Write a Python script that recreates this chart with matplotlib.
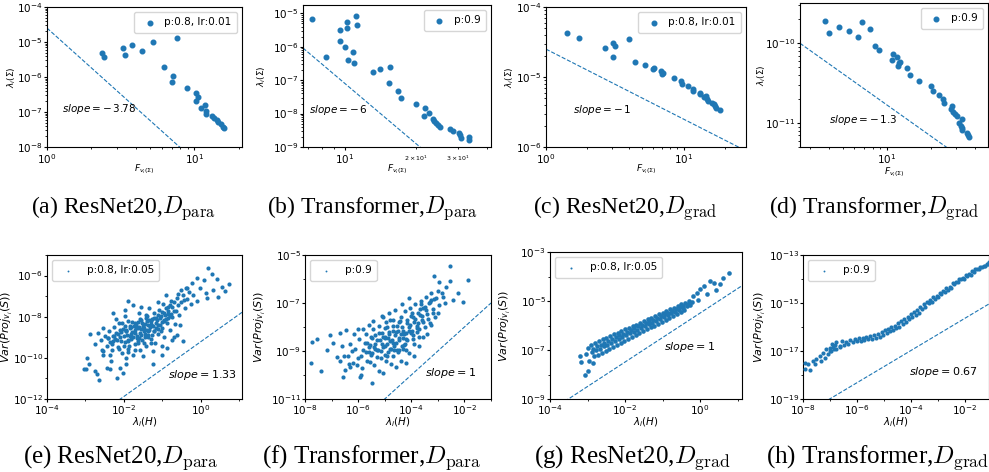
import numpy as np
import matplotlib.pyplot as plt
from matplotlib.ticker import FuncFormatter, LogLocator, NullFormatter

W, H = 989, 472
BLUE = '#1f77b4'

# ---------------- top row: lambda_i(Sigma) vs F_{v_i(Sigma)} ----------------
a_x = [2.36, 2.45, 3.27, 3.36, 3.76, 4.4, 5.25, 7.6, 6.26, 7.2, 7.05, 8.83, 10.3, 10.5,
       10.2, 11.1, 11.7, 12.0, 11.9, 13.2, 13.5, 14.2, 14.5, 15.2, 15.6, 15.9]
a_y = [4.85e-6, 3.7e-6, 6.7e-6, 4.3e-6, 8.2e-6, 5.6e-6, 1.02e-5, 1.3e-5, 1.9e-6, 1.1e-6,
       7.2e-7, 4.9e-7, 3.5e-7, 2.6e-7, 2.0e-7, 1.3e-7, 1.6e-7, 1.07e-7, 8.9e-8, 7.5e-8,
       6.6e-8, 5.8e-8, 5.1e-8, 4.4e-8, 3.8e-8, 3.4e-8]

b_x = [7.3, 8.31, 9.5, 9.5, 10.0, 10.2, 10.2, 10.3, 10.8, 10.9, 11.2, 11.3, 13.1, 14.1,
       15.5, 15.3, 16.7, 17.2, 20.0, 21.7, 21.5, 22.7, 23.6, 23.7, 24.2, 24.7, 25.3, 27.9,
       28.7, 30.2, 30.6, 31.0, 33.3, 33.5]
b_y = [6.6e-6, 5.1e-7, 3.1e-6, 1.45e-6, 1.0e-6, 5.5e-6, 3.7e-6, 3.9e-7, 6.9e-7, 3.2e-7,
       8.3e-6, 4.6e-6, 1.78e-7, 2.1e-7, 2.5e-7, 8.3e-8, 4.6e-8, 2.9e-8, 1.95e-8, 1.45e-8,
       8.3e-9, 1.07e-8, 6.8e-9, 5.9e-9, 5.1e-9, 4.5e-9, 3.9e-9, 3.5e-9, 2.95e-9, 2.6e-9,
       2.3e-9, 1.86e-9, 2.04e-9, 1.6e-9]

c_x = [1.42, 1.74, 2.68, 3.05, 3.08, 3.15, 3.98, 4.4, 5.2, 5.97, 6.1, 6.82, 6.95, 7.1,
       8.51, 9.6, 9.8, 10.7, 11.7, 11.7, 13.05, 13.2, 14.0, 14.6, 14.9, 15.0, 16.0, 16.5,
       17.0, 17.3, 18.5]
c_y = [4.25e-5, 3.6e-5, 2.6e-5, 1.93e-5, 3.1e-5, 2.8e-5, 3.5e-5, 1.64e-5, 1.47e-5, 1.29e-5,
       1.36e-5, 1.2e-5, 1.12e-5, 1.14e-5, 9.7e-6, 8.9e-6, 7.95e-6, 7.4e-6, 6.8e-6, 6.4e-6,
       6.0e-6, 5.65e-6, 5.2e-6, 5.4e-6, 4.9e-6, 4.5e-6, 4.2e-6, 4.05e-6, 3.8e-6, 3.65e-6,
       3.34e-6]

d_x = [3.78, 4.01, 4.69, 5.49, 6.33, 6.81, 7.65, 8.28, 8.86, 10.99, 10.9, 11.7, 11.96,
       12.2, 12.4, 13.7, 14.45, 16.7, 20.1, 20.8, 22.7, 24.2, 24.8, 27.9, 27.7, 28.6, 29.4,
       30.3, 32.8, 31.3, 32.3, 32.8, 33.0, 35.5, 36.1, 36.8]
d_y = [1.93e-10, 1.34e-10, 1.58e-10, 1.43e-10, 1.19e-10, 1.84e-10, 1.49e-10, 9.35e-11,
       8.2e-11, 7.4e-11, 6.1e-11, 6.7e-11, 5.2e-11, 5.6e-11, 5.8e-11, 4.9e-11, 3.95e-11,
       3.35e-11, 2.9e-11, 2.5e-11, 2.23e-11, 2.0e-11, 1.77e-11, 1.62e-11, 1.49e-11, 1.39e-11,
       1.3e-11, 1.21e-11, 1.11e-11, 1.0e-11, 9.2e-12, 8.6e-12, 8.2e-12, 7.6e-12, 7.1e-12,
       6.7e-12]

top_labels = ['p:0.8, lr:0.01', 'p:0.9', 'p:0.8, lr:0.01', 'p:0.9']
top_slopes = [-3.78, -6, -1, -1.3]
top_slope_text = [r'$slope = -\,3.78$', r'$slope = -\,6$', r'$slope = -\,1$', r'$slope = -\,1.3$']
top_anchor = [(1.0, 2.5e-5), (10.0, 8e-8), (1.0, 2.5e-5), (2.55, 1e-10)]
top_text_at = [(1.26, 1.2e-7), (7.06, 1.26e-8), (1.58, 3.34e-6), (4.05, 1.1e-11)]
top_xlim = [(1.0, 21.0), (6.66, 41.4), (1.0, 28.4), (2.55, 49.4)]
top_ylim = [(1e-8, 1e-4), (1e-9, 1.78e-5), (1e-6, 1e-4), (5e-12, 3.2e-10)]
top_xticks = [[1, 10], [10], [1, 10], [10]]
top_yticks = [[1e-8, 1e-7, 1e-6, 1e-5, 1e-4], [1e-9, 1e-8, 1e-7, 1e-6, 1e-5],
              [1e-6, 1e-5, 1e-4], [1e-11, 1e-10]]

# ---------------- bottom row: Var(Proj) vs lambda_i(H), log10 values ----------------
e_lx = [0.20, 0.29, -0.10, 0.09, 0.42, 0.75, 0.55, 0.33, -0.02, -0.23, -0.36, 0.13, -0.19,
        0.64, 0.16, -0.10, 0.46,
        -3.03, -2.97, -2.90, -2.75, -2.64, -2.45, -2.17, -2.01, -2.32, -2.53, -1.93, -2.66,
        -2.88, -2.53, -2.40, -2.75, -2.58, -2.98, -2.70, -2.35, -2.10,
        -0.62, -0.88, -1.01, -1.23, -0.54, -0.75, -0.45, -1.88, -1.97, -2.20, -1.75, -2.27,
        -2.45, -2.40, -2.30, -2.28, -2.20, -2.15, -2.10, -2.05, -2.02, -1.98, -1.92, -1.90,
        -1.85, -1.82, -1.78, -1.75, -1.72, -1.70, -1.65, -1.62, -1.58, -1.55, -1.52, -1.48,
        -1.45, -1.42, -1.40, -1.36, -1.32, -1.30, -1.27, -1.22, -1.20, -1.18, -1.15, -1.10,
        -1.08, -1.05, -1.00, -0.98, -0.95, -0.92, -0.88, -0.85, -0.80, -0.78, -0.75, -0.70,
        -0.66, -0.62, -0.60, -0.55, -0.50, -0.45, -0.40, -0.35, -0.30, -0.26, -2.60, -2.55,
        -2.50, -2.35, -2.25, -1.95, -1.60, -1.35, -1.12, -1.88, -2.12, -0.90, -1.50, -1.25,
        -1.00, -0.70, -1.68, -1.40, -1.15, -1.95, -2.25, -0.95, -1.60, -1.30, -0.85,
        -2.35, -2.28, -2.18, -2.08, -2.00, -1.95, -1.88, -1.80, -1.76, -1.68, -1.64, -1.58,
        -1.50, -1.46, -1.40, -1.38, -1.30, -1.26, -1.20, -1.16, -1.10, -1.06, -1.00, -0.96,
        -0.90, -0.86, -0.80, -0.76, -0.70, -0.64, -1.85, -1.72, -1.55, -1.42, -1.62, -1.34,
        -1.90, -2.12, -1.70, -1.48, -1.28, -1.04, -2.05, -2.38, -0.58, -0.50, -0.42, -0.38,
        -1.98, -1.55,
        -2.22, -2.14, -2.06, -2.00, -1.94, -1.90, -1.84, -1.80, -1.74, -1.70, -1.66, -1.60,
        -1.56, -1.52, -1.48, -1.44, -1.38, -1.34, -1.30, -1.24, -1.20, -1.14, -1.10, -1.04,
        -1.00, -0.94, -0.90, -0.84, -0.80, -0.74, -1.78, -1.58, -1.42, -1.96, -2.10, -1.62,
        -1.36, -1.12, -2.30, -1.86]
e_ly = [-5.61, -5.94, -6.10, -6.21, -6.16, -6.39, -6.56, -6.69, -6.58, -6.37, -6.61, -6.85,
        -6.94, -6.77, -7.10, -7.26, -7.02,
        -10.56, -10.00, -10.29, -10.65, -11.10, -10.48, -11.00, -10.73, -10.16, -9.84,
        -10.32, -8.79, -8.84, -8.55, -9.03, -9.35, -9.60, -10.55, -10.79, -10.55, -10.47,
        -8.87, -9.52, -9.84, -10.32, -8.39, -9.11, -9.19, -7.23, -7.66, -8.10, -7.45, -7.80,
        -9.40, -9.05, -9.60, -9.20, -8.80, -9.45, -9.00, -9.75, -8.60, -9.25, -8.90, -9.55,
        -8.45, -9.10, -8.75, -9.85, -8.30, -9.35, -8.95, -8.55, -9.60, -8.15, -9.15, -8.70,
        -8.35, -9.40, -7.95, -8.90, -8.50, -9.10, -8.10, -8.70, -7.80, -9.30, -8.30, -8.85,
        -7.65, -8.05, -8.55, -7.40, -9.00, -7.90, -8.30, -7.55, -8.65, -7.25, -8.00, -7.70,
        -8.35, -7.10, -7.45, -7.90, -7.30, -6.95, -7.60, -7.15, -6.80, -7.40, -9.15, -9.65,
        -8.95, -9.85, -8.50, -10.00, -7.80, -7.60, -7.30, -8.20, -8.30, -6.95, -9.90, -9.65,
        -9.40, -9.00, -8.50, -8.65, -8.05, -8.70, -8.95, -8.15, -9.05, -8.40, -7.85,
        -9.25, -8.95, -9.15, -8.75, -9.40, -8.65, -9.20, -8.50, -9.00, -8.40, -9.20, -8.80,
        -8.45, -9.00, -8.20, -8.70, -8.35, -8.90, -8.05, -8.55, -7.90, -8.40, -7.75, -8.20,
        -7.60, -8.05, -7.45, -7.85, -7.30, -7.70, -8.95, -8.65, -8.60, -8.05, -8.25, -8.15,
        -9.70, -9.55, -9.60, -9.30, -9.30, -8.70, -8.30, -8.70, -6.90, -6.70, -7.20, -6.60,
        -7.95, -7.55,
        -9.10, -8.85, -9.20, -8.95, -8.70, -9.15, -8.55, -8.85, -8.45, -8.80, -9.05, -8.50,
        -8.90, -8.30, -8.55, -8.85, -8.40, -8.65, -8.20, -8.45, -8.70, -8.15, -8.40, -7.95,
        -8.25, -7.80, -8.10, -7.70, -7.95, -7.55, -8.25, -8.10, -7.90, -8.45, -8.65, -9.30,
        -9.00, -8.60, -9.35, -9.40]

f_lx = [-7.75, -7.56, -7.78, -7.41, -7.19, -6.94, -6.81, -7.06, -6.69, -6.44, -6.31, -6.56,
        -5.48, -5.94, -5.06, -4.56, -4.19, -2.53, -2.56, -1.85, -2.25, -2.06, -3.13, -2.94,
        -2.69, -2.44, -3.25, -2.81,
        -6.40, -6.30, -6.20, -6.10, -6.00, -5.95, -5.85, -5.80, -5.70, -5.65, -5.55, -5.50,
        -5.45, -5.40, -5.30, -5.25, -5.20, -5.15, -5.05, -5.00, -4.95, -4.90, -4.85, -4.80,
        -4.75, -4.70, -4.65, -4.60, -4.55, -4.50, -4.45, -4.40, -4.35, -4.30, -4.25, -4.20,
        -4.15, -4.10, -4.05, -4.00, -3.95, -3.90, -3.85, -3.80, -3.75, -3.70, -3.65, -3.60,
        -3.55, -3.50, -3.45, -3.40, -3.35, -3.30, -3.25, -3.20, -3.15, -3.10, -3.00, -2.95,
        -6.60, -6.70, -6.50, -5.90, -5.20, -4.40, -3.90, -5.60, -5.10, -4.60, -6.00, -3.70,
        -3.40, -4.90, -5.35, -5.00, -4.70, -4.30, -4.80, -4.50, -4.10, -5.40, -3.80, -4.20,
        -6.25, -6.05, -5.90, -5.75, -5.60, -5.48, -5.35, -5.22, -5.10, -5.00, -4.88, -4.78,
        -4.68, -4.58, -4.48, -4.38, -4.28, -4.18, -4.08, -3.98, -3.88, -3.78, -3.68, -3.58,
        -3.48, -3.38, -3.28, -3.18, -3.08, -5.55, -5.15, -4.95, -4.70, -4.45, -4.20, -3.95,
        -5.80, -5.45, -5.05, -4.85, -4.35, -4.10, -6.15, -6.35, -6.55, -3.55, -3.25, -2.85,
        -2.75, -3.00,
        -5.70, -5.58, -5.46, -5.38, -5.28, -5.18, -5.08, -4.98, -4.92, -4.82, -4.74, -4.64,
        -4.56, -4.46, -4.36, -4.26, -4.16, -4.06, -3.96, -3.86, -3.76, -3.66, -3.56, -4.52,
        -4.24, -4.88, -5.12, -4.68, -4.42, -4.02, -5.30, -5.00, -4.30, -3.92, -3.72, -4.80,
        -5.50, -5.65, -3.44, -3.62]
f_ly = [-8.61, -8.51, -9.51, -9.83, -8.96, -8.68, -9.24, -8.33, -8.26, -8.13, -9.65, -10.07,
        -10.32, -10.07, -9.93, -9.65, -9.51, -5.46, -6.07, -6.04, -6.57, -6.94, -5.88, -6.11,
        -6.32, -6.88, -6.88, -6.74,
        -9.20, -8.70, -9.50, -8.90, -9.30, -8.50, -9.70, -8.95, -8.30, -9.40, -8.75, -9.15,
        -8.10, -9.60, -8.55, -8.95, -7.95, -9.30, -8.40, -8.80, -7.80, -9.20, -8.20, -8.60,
        -9.55, -7.70, -8.95, -8.35, -7.95, -9.05, -8.55, -7.60, -8.80, -8.15, -7.35, -8.50,
        -7.85, -9.10, -7.20, -8.25, -7.60, -8.70, -7.05, -7.95, -7.40, -8.40, -6.90, -7.70,
        -7.20, -8.00, -6.75, -7.45, -7.00, -7.85, -6.60, -7.25, -6.85, -7.60, -6.50, -7.10,
        -8.80, -9.40, -9.80, -10.00, -9.85, -9.40, -9.20, -7.90, -7.55, -7.30, -8.10, -8.80,
        -8.30, -8.00, -8.35, -8.40, -8.65, -8.45, -8.90, -8.15, -8.00, -8.85, -8.05, -8.25,
        -9.00, -9.60, -9.20, -8.65, -9.05, -8.45, -8.90, -8.25, -8.70, -8.05, -8.45, -8.90,
        -8.15, -8.65, -7.80, -8.30, -8.75, -7.70, -8.15, -7.40, -7.80, -8.20, -7.25, -7.55,
        -7.15, -7.65, -6.95, -7.40, -6.80, -9.45, -9.00, -9.40, -9.20, -8.95, -8.95, -8.50,
        -8.10, -7.75, -7.60, -7.40, -7.05, -6.80, -8.30, -9.55, -9.20, -8.40, -7.90, -6.60,
        -7.00, -7.40,
        -9.05, -8.85, -9.10, -8.70, -8.95, -8.55, -8.85, -8.45, -8.70, -8.30, -8.55, -8.80,
        -8.20, -8.45, -8.00, -8.30, -8.55, -7.90, -8.15, -7.65, -7.85, -7.50, -7.80, -8.95,
        -8.70, -9.05, -8.25, -7.95, -7.75, -7.55, -9.25, -9.15, -8.90, -8.35, -8.10, -7.70,
        -8.40, -8.65, -7.30, -7.05]

g_lx = [-2.90, -2.87, -2.85, -2.82, -2.80, -2.77, -2.75, -2.72, -2.70, -2.67, -2.65, -2.62,
        -2.60, -2.57, -2.55, -2.52, -2.50, -2.47, -2.45, -2.42, -2.40, -2.37, -2.35, -2.32,
        -2.30, -2.27, -2.25, -2.22, -2.20, -2.17, -2.15, -2.12, -2.10, -2.07, -2.05, -2.02,
        -2.00, -1.97, -1.95, -1.92, -1.90, -1.87, -1.85, -1.82, -1.80, -1.77, -1.75, -1.72,
        -1.70, -1.67, -1.65, -1.62, -1.60, -1.57, -1.55, -1.52, -1.50, -1.47, -1.45, -1.42,
        -1.40, -1.37, -1.35, -1.32, -1.30, -1.27, -1.25, -1.22, -1.20, -1.17, -1.15, -1.12,
        -1.10, -1.07, -1.05, -1.02, -1.00, -0.97, -0.95, -0.92, -0.90, -0.87, -0.85, -0.82,
        -0.80, -0.77, -0.75, -0.72, -0.70, -0.67, -0.65, -0.62, -0.60, -0.57, -0.55, -0.52,
        -0.50, -0.47, -0.45, -0.42, -0.40, -0.36, -0.33, -0.30, -0.26, -0.22,
        0.25, 0.36, 0.53, 0.00, 0.09, -0.09, -0.18, 0.76, 0.18, -0.05, 0.42, 0.60,
        -3.20, -3.17, -3.07, -2.98, -3.00, -2.95, -2.85, -3.05]
g_ly = [-6.80, -7.10, -6.95, -7.25, -6.70, -7.00, -6.85, -7.20, -6.65, -6.95, -6.78, -7.12,
        -6.55, -6.85, -6.70, -7.05, -6.50, -6.78, -6.62, -6.95, -6.42, -6.70, -6.55, -6.88,
        -6.36, -6.62, -6.48, -6.80, -6.30, -6.55, -6.40, -6.70, -6.22, -6.48, -6.33, -6.62,
        -6.16, -6.40, -6.26, -6.55, -6.10, -6.32, -6.18, -6.46, -6.02, -6.25, -6.12, -6.38,
        -5.96, -6.18, -6.04, -6.30, -5.88, -6.10, -5.97, -6.22, -5.82, -6.03, -5.90, -6.15,
        -5.75, -5.95, -5.83, -6.07, -5.68, -5.88, -5.76, -6.00, -5.61, -5.80, -5.69, -5.92,
        -5.54, -5.73, -5.62, -5.84, -5.48, -5.66, -5.55, -5.76, -5.40, -5.58, -5.47, -5.68,
        -5.34, -5.51, -5.40, -5.60, -5.27, -5.44, -5.33, -5.52, -5.20, -5.36, -5.26, -5.45,
        -5.14, -5.29, -5.19, -5.38, -5.08, -5.22, -5.12, -5.02, -5.16, -5.05,
        -4.18, -4.25, -4.29, -4.52, -4.38, -4.66, -4.79, -3.84, -4.73, -4.95, -4.55, -4.05,
        -7.23, -7.51, -8.01, -7.84, -6.93, -7.45, -7.55, -7.15]

h_lx = [-7.94, -7.94, -7.75, -7.81, -7.63, -7.57, -7.51, -7.38, -7.32, -7.26, -7.20, -7.14,
        -7.07, -7.01, -6.95, -6.83, -6.77, -6.64,
        -6.99, -6.94, -6.89, -6.84, -6.79, -6.62, -6.55, -6.48, -6.40, -6.33, -6.26,
        -6.15, -6.08, -6.00, -5.93, -5.86, -5.79, -5.72, -5.65, -5.58, -5.50, -5.43, -5.36,
        -5.29, -5.22, -5.15, -5.08, -5.02, -4.96, -4.90, -4.84, -4.78, -4.72, -4.66, -4.60,
        -4.54, -4.48, -4.42, -4.36, -4.30, -4.24, -4.18, -4.12, -4.06, -4.00, -3.94, -3.88,
        -3.82, -3.76, -3.70, -3.64, -3.58, -3.52, -3.46, -3.40, -3.34, -3.28, -3.22, -3.16,
        -3.10, -3.04, -2.98, -2.92, -2.86, -2.80, -2.74, -2.68, -2.62, -2.56, -2.50, -2.44,
        -2.38, -2.32, -2.26, -2.20, -2.14, -2.08, -2.02, -1.96, -1.90, -1.84, -1.78, -1.72,
        -1.66, -1.60, -1.54, -1.48, -1.42, -1.36, -1.30, -1.24, -1.18, -1.13, -1.10]
h_ly = [-17.48, -17.73, -17.79, -17.55, -17.41, -17.55, -17.34, -17.20, -17.41, -17.07,
        -17.28, -16.93, -17.14, -16.86, -17.00, -16.77, -16.93, -16.79,
        -16.98, -16.70, -16.82, -16.90, -16.62, -16.85, -16.60, -16.75, -16.64, -16.72,
        -16.55, -16.62, -16.48, -16.60, -16.45, -16.58, -16.44, -16.54, -16.40, -16.52,
        -16.36, -16.48, -16.34, -16.44, -16.28, -16.40, -16.22, -16.32, -16.12, -16.26,
        -16.08, -16.18, -15.98, -16.14, -15.94, -16.04, -15.82, -15.98, -15.76, -15.88,
        -15.66, -15.80, -15.58, -15.68, -15.46, -15.60, -15.38, -15.48, -15.28, -15.40,
        -15.18, -15.26, -15.06, -15.16, -14.96, -15.02, -14.88, -14.94, -14.76, -14.82,
        -14.70, -14.76, -14.58, -14.64, -14.52, -14.56, -14.38, -14.44, -14.32, -14.36,
        -14.18, -14.22, -14.12, -14.14, -13.98, -14.02, -13.96, -13.98, -13.84, -13.86,
        -13.80, -13.82, -13.68, -13.70, -13.60, -13.60, -13.58, -13.50, -13.52, -13.47,
        -13.44, -13.38, -13.36, -13.30]

bot_labels = ['p:0.8, lr:0.05', 'p:0.9', 'p:0.8, lr:0.05', 'p:0.9']
bot_slopes = [1.33, 1, 1, 0.67]
bot_slope_text = [r'$slope = 1.33$', r'$slope = 1$', r'$slope = 1$', r'$slope = 0.67$']
bot_anchor = [(1.0, 6e-10), (1e-5, 1e-11), (10**-3.51, 1e-9), (10**-7.01, 1e-19)]
bot_text_at = [(10**-0.86, 10**-10.85), (10**-3.5, 10**-9.9), (10**-0.96, 10**-6.89),
               (10**-4.05, 10**-17.87)]
bot_xlim = [(1e-4, 12), (1e-8, 1e-1), (1e-4, 13), (1e-8, 0.08)]
bot_ylim = [(1e-12, 1e-5), (1e-11, 1e-5), (1e-9, 1e-3), (1e-19, 1e-13)]
bot_xticks = [[1e-4, 1e-2, 1e0], [1e-8, 1e-6, 1e-4, 1e-2], [1e-4, 1e-2, 1e0],
              [1e-8, 1e-6, 1e-4, 1e-2]]
bot_yticks = [[1e-12, 1e-10, 1e-8, 1e-6], [1e-11, 1e-9, 1e-7, 1e-5],
              [1e-9, 1e-7, 1e-5, 1e-3], [1e-19, 1e-17, 1e-15, 1e-13]]
bot_size = [9, 9, 11, 9]

captions_top = [r'(a) ResNet20,$D_{\mathrm{para}}$', r'(b) Transformer,$D_{\mathrm{para}}$',
                r'(c) ResNet20,$D_{\mathrm{grad}}$', r'(d) Transformer,$D_{\mathrm{grad}}$']
captions_bot = [r'(e) ResNet20,$D_{\mathrm{para}}$', r'(f) Transformer,$D_{\mathrm{para}}$',
                r'(g) ResNet20,$D_{\mathrm{grad}}$', r'(h) Transformer,$D_{\mathrm{grad}}$']

fig = plt.figure(figsize=(W / 100, H / 100), dpi=100)


def add_ax(l, t, r, b):
    # pixel box -> figure fraction
    return fig.add_axes([l / W, 1 - b / H, (r - l) / W, (b - t) / H])


def place_labels(ax, box, xoff, yoff):
    # label centres given as pixel distances from the spines
    w, h = box[2] - box[0], box[3] - box[1]
    ax.yaxis.label.set_va('center')
    ax.xaxis.label.set_va('center')
    ax.yaxis.set_label_coords(-yoff / w, 0.5)
    ax.xaxis.set_label_coords(0.5, -xoff / h)


top_boxes = [(47, 7, 242, 147), (303, 5, 491, 147), (546, 7, 746, 147), (800, 3, 988, 147)]
bot_boxes = [(47, 255, 242, 399), (305, 255, 491, 399), (550, 252, 742, 399), (803, 255, 989, 399)]
top_ylab_off = [35, 41, 36, 38]
top_xlab_off = [22, 22, 22, 25]
bot_ylab_off = [40, 45, 45, 43]
top_cx = [123, 372, 625, 874]
bot_cx = [121, 372, 632, 877]

top_data = [(a_x, a_y), (b_x, b_y), (c_x, c_y), (d_x, d_y)]
for i, (xs, ys) in enumerate(top_data):
    ax = add_ax(*top_boxes[i])
    ax.set_xscale('log')
    ax.set_yscale('log')
    ax.scatter(xs, ys, s=11, color=BLUE, label=top_labels[i], zorder=3)
    x0, y0 = top_anchor[i]
    lx = np.logspace(np.log10(top_xlim[i][0]), np.log10(top_xlim[i][1]), 60)
    ax.plot(lx, y0 * (lx / x0) ** top_slopes[i], '--', color=BLUE, lw=0.8)
    ax.text(*top_text_at[i], top_slope_text[i], fontsize=7.5, va='center')
    ax.set_xticks(top_xticks[i])
    ax.set_yticks(top_yticks[i])
    ax.set_xlim(*top_xlim[i])
    ax.set_ylim(*top_ylim[i])
    ax.set_xlabel(r'$F_{v_i(\Sigma)}$', fontsize=6.5)
    ax.set_ylabel(r'$\lambda_i(\Sigma)$', fontsize=6.5)
    place_labels(ax, top_boxes[i], top_xlab_off[i], top_ylab_off[i])
    ax.tick_params(labelsize=7.5, length=2.5, pad=1)
    ax.tick_params(which='minor', length=1.5)
    ax.yaxis.set_minor_formatter(NullFormatter())
    if i == 1:
        ax.xaxis.set_minor_formatter(FuncFormatter(
            lambda v, _: {20: r'$2\times10^{1}$', 30: r'$3\times10^{1}$'}.get(int(round(v)), '')
            if abs(v - round(v)) < 1e-6 else ''))
        ax.tick_params(axis='x', which='minor', labelsize=4.5)
    else:
        ax.xaxis.set_minor_formatter(NullFormatter())
    ax.legend(loc='upper right', fontsize=7.5, handletextpad=0.4, borderpad=0.5)
    fig.text(top_cx[i] / W, 1 - 208 / H, captions_top[i], fontsize=17,
             family='Liberation Serif', math_fontfamily='cm', ha='center', va='center')

bot_data = [(e_lx, e_ly), (f_lx, f_ly), (g_lx, g_ly), (h_lx, h_ly)]
for i, (lxs, lys) in enumerate(bot_data):
    ax = add_ax(*bot_boxes[i])
    ax.set_xscale('log')
    ax.set_yscale('log')
    ax.scatter(10 ** np.array(lxs), 10 ** np.array(lys), s=bot_size[i], color=BLUE,
               linewidths=0, label=bot_labels[i], zorder=3)
    x0, y0 = bot_anchor[i]
    lx = np.logspace(np.log10(bot_xlim[i][0]), np.log10(bot_xlim[i][1]), 60)
    ax.plot(lx, y0 * (lx / x0) ** bot_slopes[i], '--', color=BLUE, lw=0.8)
    ax.text(*bot_text_at[i], bot_slope_text[i], fontsize=8, va='center')
    ax.set_xticks(bot_xticks[i])
    ax.set_yticks(bot_yticks[i])
    ax.xaxis.set_minor_locator(LogLocator(base=10, subs=(1.0,), numticks=30))
    ax.yaxis.set_minor_locator(LogLocator(base=10, subs=(1.0,), numticks=30))
    ax.xaxis.set_minor_formatter(NullFormatter())
    ax.yaxis.set_minor_formatter(NullFormatter())
    ax.set_xlim(*bot_xlim[i])
    ax.set_ylim(*bot_ylim[i])
    ax.set_xlabel(r'$\lambda_i(H)$', fontsize=7.5)
    ax.set_ylabel(r'$Var(Proj_{v_i}(S))$', fontsize=8)
    place_labels(ax, bot_boxes[i], 23, bot_ylab_off[i])
    ax.tick_params(labelsize=7.5, length=2, pad=1)
    ax.tick_params(which='minor', length=1.5)
    ax.legend(loc='upper left', fontsize=7.5, markerscale=0.45, handletextpad=0.8,
              borderpad=0.5)
    fig.text(bot_cx[i] / W, 1 - 458 / H, captions_bot[i], fontsize=18,
             family='Liberation Serif', math_fontfamily='cm', ha='center', va='center')

fig.savefig('out.png', dpi=100)
